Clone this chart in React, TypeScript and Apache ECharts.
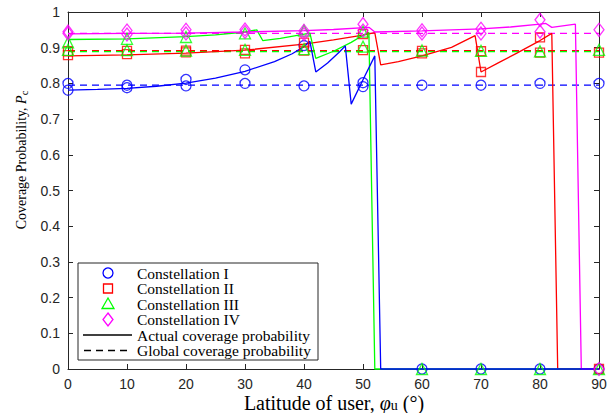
import React, { useEffect, useRef } from "react";
import * as echarts from "echarts";

// ---------- data ----------
const sampleLatitudes = [0, 10, 20, 30, 40, 50, 60, 70, 80, 90];
const xTickValues = [0, 10, 20, 30, 40, 50, 60, 70, 80, 90];
const yTickValues = [0, 0.1, 0.2, 0.3, 0.4, 0.5, 0.6, 0.7, 0.8, 0.9, 1];

const seriesNames = ["Constellation I", "Constellation II", "Constellation III", "Constellation IV"];

// analytical "actual coverage probability" curves, [latitude, Pc]
const actualI = [
  [0, 0.781], [5, 0.783], [10, 0.786], [15, 0.792], [20, 0.801], [25, 0.815], [30, 0.834],
  [35, 0.861], [38, 0.883], [40, 0.903], [41, 0.918], [42, 0.832], [44, 0.857], [46, 0.888],
  [47, 0.905], [48, 0.742], [50, 0.81], [52, 0.877], [53, 0], [90, 0],
];
const actualII = [
  [0, 0.877], [10, 0.88], [20, 0.885], [30, 0.893], [40, 0.91], [45, 0.922], [50, 0.935],
  [52, 0.942], [53, 0.852], [56, 0.861], [60, 0.877], [65, 0.901], [69, 0.934], [70, 0.832],
  [73, 0.858], [76, 0.884], [80, 0.92], [82, 0.94], [83, 0], [90, 0],
];
const actualIII = [
  [0, 0.923], [10, 0.925], [20, 0.931], [25, 0.936], [30, 0.944], [32, 0.95], [33, 0.92],
  [36, 0.926], [41, 0.941], [42, 0.87], [45, 0.89], [48, 0.915], [50, 0.935], [51, 0.942],
  [52, 0], [90, 0],
];
const actualIV = [
  [0, 0.939], [10, 0.94], [20, 0.941], [30, 0.944], [40, 0.948], [45, 0.951], [51, 0.957],
  [52, 0.944], [60, 0.947], [70, 0.953], [75, 0.958], [80, 0.966], [81, 0.968], [82, 0.957],
  [86, 0.966], [87, 0], [90, 0],
];

// global coverage probability (dashed)
const globalValues = [0.795, 0.892, 0.889, 0.94];

// simulated markers at sampleLatitudes
const simActualI = [0.781, 0.788, 0.811, 0.838, 0.906, 0.802, 0, 0, 0, 0];
const simGlobalI = [0.8, 0.795, 0.793, 0.8, 0.793, 0.791, 0.795, 0.795, 0.8, 0.8];
const simActualII = [0.879, 0.882, 0.887, 0.894, 0.914, 0.938, 0.884, 0.832, 0.929, 0];
const simGlobalII = [0.89, 0.891, 0.892, 0.884, 0.892, 0.893, 0.891, 0.89, 0.886, 0.886];
const simActualIII = [0.915, 0.925, 0.93, 0.94, 0.948, 0.945, 0, 0, 0, 0];
const simGlobalIII = [0.894, 0.893, 0.892, 0.894, 0.896, 0.903, 0.892, 0.891, 0.89, 0.894];
const simActualIV = [0.945, 0.948, 0.95, 0.951, 0.947, 0.966, 0.949, 0.953, 0.978, 0];
const simGlobalIV = [0.94, 0.937, 0.94, 0.944, 0.938, 0.948, 0.94, 0.94, 0.945, 0.95];

// ---------- styles ----------
const COLORS = ["#0000ff", "#ff0000", "#00ff00", "#ff00ff"];
const SYMBOLS = ["circle", "rect", "triangle", "diamond"];
const SYMBOL_SIZES: any[] = [10, 9, 11, [10, 13]];
const AXIS_COLOR = "#262626";
const SERIF = "'Liberation Serif', 'Times New Roman', serif";
const SANS = "'Liberation Sans', Arial, sans-serif";

const GRID = { left: 68, right: 14, top: 12, bottom: 44 };

function buildOption() {
  const actual = [actualI, actualII, actualIII, actualIV];
  const simA = [simActualI, simActualII, simActualIII, simActualIV];
  const simG = [simGlobalI, simGlobalII, simGlobalIII, simGlobalIV];
  const drawOrder = [1, 2, 3, 0];
  const series: any[] = [];

  drawOrder.forEach((i, k) => {
    series.push({
      name: seriesNames[i] + " actual",
      type: "line",
      data: actual[i],
      symbol: "none",
      showSymbol: false,
      clip: false,
      silent: true,
      z: 3 + k * 0.1,
      lineStyle: { color: COLORS[i], width: 1.3 },
    });
    series.push({
      name: seriesNames[i] + " global",
      type: "line",
      data: [
        [xTickValues[0], globalValues[i]],
        [xTickValues[xTickValues.length - 1], globalValues[i]],
      ],
      symbol: "none",
      showSymbol: false,
      clip: false,
      silent: true,
      z: 2,
      lineStyle: { color: COLORS[i], width: 1.2, type: [7, 5] },
    });
  });

  [0, 1, 2, 3].forEach((i) => {
    const mk = (vals: number[]) => ({
      type: "scatter",
      data: sampleLatitudes.map((x, j) => [x, vals[j]]),
      symbol: SYMBOLS[i],
      symbolSize: SYMBOL_SIZES[i],
      clip: false,
      silent: true,
      z: 5,
      itemStyle: { color: "rgba(0,0,0,0)", borderColor: COLORS[i], borderWidth: 1.3 },
    });
    series.push(mk(simA[i]));
    series.push(mk(simG[i]));
  });

  const axisCommon = {
    type: "value",
    axisLine: { show: true, onZero: false, lineStyle: { color: AXIS_COLOR, width: 1 } },
    axisTick: { show: true, inside: true, length: 5, lineStyle: { color: AXIS_COLOR, width: 1 } },
    splitLine: { show: false },
  };

  const xMin = xTickValues[0];
  const xMax = xTickValues[xTickValues.length - 1];
  const yMin = yTickValues[0];
  const yMax = yTickValues[yTickValues.length - 1];

  // legend
  const lx = 78, ly = 263, lw = 240, lh = 97;
  const rowY = [273, 288.5, 304, 319.5, 335, 350.5];
  const mx = 108;
  const legendTexts = [...seriesNames, "Actual coverage probability", "Global coverage probability"];
  const legendChildren: any[] = [
    { type: "rect", shape: { x: lx, y: ly, width: lw, height: lh }, style: { fill: "#fff", stroke: AXIS_COLOR, lineWidth: 1 } },
    { type: "circle", shape: { cx: mx, cy: rowY[0], r: 5 }, style: { fill: "none", stroke: COLORS[0], lineWidth: 1.3 } },
    { type: "rect", shape: { x: mx - 4.5, y: rowY[1] - 4.5, width: 9, height: 9 }, style: { fill: "none", stroke: COLORS[1], lineWidth: 1.3 } },
    {
      type: "polygon",
      shape: { points: [[mx, rowY[2] - 6], [mx + 6, rowY[2] + 4.5], [mx - 6, rowY[2] + 4.5]] },
      style: { fill: "none", stroke: COLORS[2], lineWidth: 1.3 },
    },
    {
      type: "polygon",
      shape: { points: [[mx, rowY[3] - 6.5], [mx + 5, rowY[3]], [mx, rowY[3] + 6.5], [mx - 5, rowY[3]]] },
      style: { fill: "none", stroke: COLORS[3], lineWidth: 1.3 },
    },
    { type: "line", shape: { x1: 83, y1: rowY[4], x2: 132, y2: rowY[4] }, style: { stroke: "#000", lineWidth: 1.3 } },
    { type: "line", shape: { x1: 84, y1: rowY[5], x2: 132, y2: rowY[5] }, style: { stroke: "#000", lineWidth: 1.3, lineDash: [7, 5] } },
  ];
  legendTexts.forEach((t, i) => {
    legendChildren.push({
      type: "text",
      x: 137,
      y: rowY[i],
      style: { text: t, fill: "#000", font: `15.5px ${SERIF}`, textVerticalAlign: "middle", textAlign: "left" },
    });
  });

  return {
    animation: false,
    backgroundColor: "#fff",
    grid: { ...GRID, show: false },
    xAxis: [
      {
        ...axisCommon,
        min: xMin,
        max: xMax,
        interval: 10,
        position: "bottom",
        axisLabel: { color: AXIS_COLOR, fontSize: 14, fontFamily: SANS, margin: 8 },
      },
      { ...axisCommon, min: xMin, max: xMax, interval: 10, position: "top", axisLabel: { show: false } },
    ],
    yAxis: [
      {
        ...axisCommon,
        min: yMin,
        max: yMax,
        interval: 0.1,
        position: "left",
        axisLabel: { color: AXIS_COLOR, fontSize: 14, fontFamily: SANS, margin: 8 },
      },
      { ...axisCommon, min: yMin, max: yMax, interval: 0.1, position: "right", axisLabel: { show: false } },
    ],
    series,
    graphic: [
      { type: "group", z: 100, children: legendChildren },
      {
        type: "text",
        x: 334,
        y: 403,
        z: 100,
        style: {
          text: "{a|Latitude of user, }{i|φ}{s|u}{a| (°)}",
          textAlign: "center",
          textVerticalAlign: "middle",
          fill: "#000",
          rich: {
            a: { fontFamily: SERIF, fontSize: 20, lineHeight: 18, fill: "#000" },
            i: { fontFamily: SERIF, fontSize: 20, fontStyle: "italic", lineHeight: 18, fill: "#000" },
            s: { fontFamily: SERIF, fontSize: 14, lineHeight: 12, verticalAlign: "bottom", fill: "#000" },
          },
        },
      },
      {
        type: "text",
        x: 21,
        y: 160,
        rotation: Math.PI / 2,
        z: 100,
        style: {
          text: "{a|Coverage Probability, }{i|P}{s|c}",
          textAlign: "center",
          textVerticalAlign: "middle",
          fill: "#000",
          rich: {
            a: { fontFamily: SERIF, fontSize: 14, lineHeight: 18, fill: "#000" },
            i: { fontFamily: SERIF, fontSize: 14, fontStyle: "italic", lineHeight: 18, fill: "#000" },
            s: { fontFamily: SERIF, fontSize: 10.5, lineHeight: 10, verticalAlign: "bottom", fill: "#000" },
          },
        },
      },
    ],
  };
}

export default function App() {
  const ref = useRef<HTMLDivElement>(null);
  useEffect(() => {
    if (!ref.current) return;
    const chart = echarts.init(ref.current, undefined, { renderer: "svg" });
    chart.setOption(buildOption() as any);
    return () => chart.dispose();
  }, []);
  return (
    <div
      ref={ref}
      style={{ position: "fixed", left: 0, top: 0, width: 613, height: 413, background: "#fff" }}
    />
  );
}
